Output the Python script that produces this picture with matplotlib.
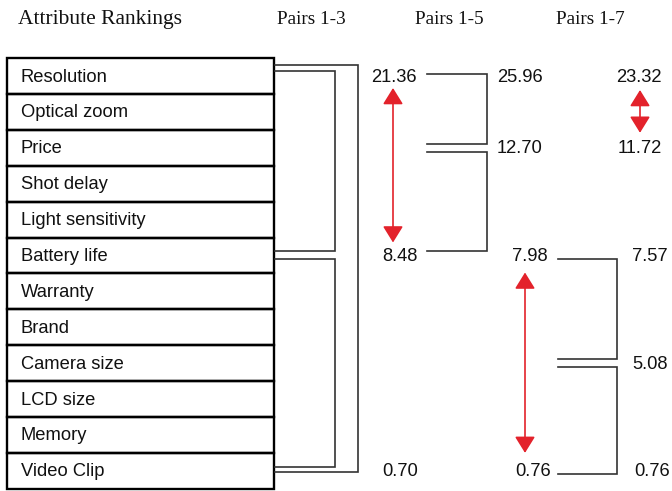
import matplotlib.pyplot as plt
from matplotlib.patches import Rectangle, FancyArrowPatch

attributes = ['Resolution', 'Optical zoom', 'Price', 'Shot delay', 'Light sensitivity',
              'Battery life', 'Warranty', 'Brand', 'Camera size', 'LCD size',
              'Memory', 'Video Clip']
headers = ['Attribute Rankings', 'Pairs 1-3', 'Pairs 1-5', 'Pairs 1-7']

# (row, value) for each column of pairs
pairs_13 = [(0, '21.36'), (5, '8.48'), (11, '0.70')]
pairs_15 = [(0, '25.96'), (2, '12.70'), (5, '7.98'), (11, '0.76')]
pairs_17 = [(0, '23.32'), (2, '11.72'), (5, '7.57'), (8, '5.08'), (11, '0.76')]

# groupings drawn as brackets: (top row, bottom row)
brackets_13 = [(0, 11), (0, 5), (5, 11)]
brackets_15 = [(0, 2), (2, 5)]
brackets_17 = [(5, 8), (8, 11)]

# significant differences (red arrows): (top row, bottom row)
arrows = [(0, 5), (5, 11), (0, 2)]

# layout (pixels)
row0, rowh = 76, 35.9
def ry(r):
    return row0 + rowh * r

fig = plt.figure(figsize=(6.72, 4.91), dpi=100)
ax = fig.add_axes([0, 0, 1, 1])
ax.set_xlim(0, 672)
ax.set_ylim(491, 0)
ax.axis('off')

serif = 'Liberation Serif'
sans = 'Liberation Sans'

for x, h, fs in zip([100, 311, 449, 590], headers, [15.5, 13.8, 13.8, 13.8]):
    ax.text(x, 19, h, ha='center', va='center', fontsize=fs, family=serif,
            color='#111111')

for i, a in enumerate(attributes):
    ax.add_patch(Rectangle((7, ry(i) - rowh / 2), 267, rowh, fill=False,
                           ec='black', lw=1.7))
    ax.text(21, ry(i) + 1, a, ha='left', va='center', fontsize=13.2, family=sans,
            color='#111111')

lc = '#333333'
def bracket(x0, x1, y0, y1):
    ax.plot([x0, x1, x1, x0], [y0, y0, y1, y1], color=lc, lw=1.2,
            solid_joinstyle='miter')

# pairs 1-3 brackets
offs_13 = [(-11, 1, 358), (-5, -5, 335), (3, -4, 335)]
for (a, b), (oa, ob, x) in zip(brackets_13, offs_13):
    bracket(275, x, ry(a) + oa, ry(b) + ob)

# pairs 1-5 brackets
offs_15 = [(-2, -4), (4, -5)]
for (a, b), (oa, ob) in zip(brackets_15, offs_15):
    bracket(427, 487, ry(a) + oa, ry(b) + ob)

# pairs 1-7 brackets
offs_17 = [(3, -4), (4, 3)]
for (a, b), (oa, ob) in zip(brackets_17, offs_17):
    bracket(558, 617, ry(a) + oa, ry(b) + ob)

x_13 = [394, 400, 400]
x_15 = [520, 520, 530, 533]
x_17 = [639, 640, 650, 650, 652]
for col, xs in [(pairs_13, x_13), (pairs_15, x_15), (pairs_17, x_17)]:
    for (r, v), x in zip(col, xs):
        ax.text(x, ry(r) + 1, v, ha='center', va='center', fontsize=13.2, family=sans,
                color='#111111')

red = '#e3222b'
arrow_x = [393, 525, 640]
arrow_gaps = [(12, -13), (17, -18), (14, -15)]
for (a, b), x, (ga, gb) in zip(arrows, arrow_x, arrow_gaps):
    ax.add_patch(FancyArrowPatch((x, ry(a) + ga), (x, ry(b) + gb),
                                 arrowstyle='<|-|>,head_length=1.0,head_width=0.62',
                                 mutation_scale=10, color=red, lw=1.2,
                                 shrinkA=0, shrinkB=0))

fig.savefig('out.png', dpi=100)
